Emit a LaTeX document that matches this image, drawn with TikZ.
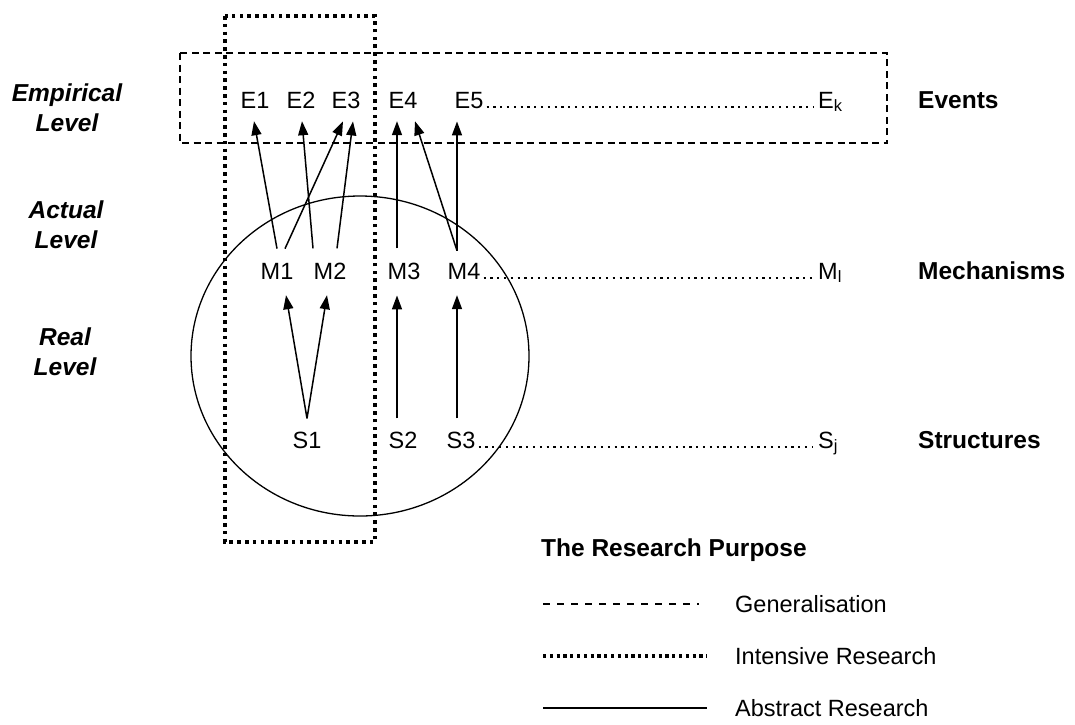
\documentclass[tikz,border=0pt]{standalone}
\usepackage{fontspec}
\setmainfont{Liberation Sans}
\usetikzlibrary{arrows.meta}
\begin{document}
\begin{tikzpicture}[x=1pt,y=-1pt,
  txt/.style={font=\fontsize{23.5}{27}\selectfont, inner sep=0pt, anchor=base},
  head/.style={font=\fontsize{24.5}{28}\selectfont\bfseries, inner sep=0pt, anchor=base west},
  level/.style={font=\fontsize{24.5}{30}\selectfont\bfseries\itshape, inner sep=0pt, align=center},
  arr/.style={line width=1.5pt, -{Triangle[length=14pt,width=10pt]}},
  leader/.style={line width=2.2pt, dash pattern=on 2.2pt off 4.6pt},
  genbox/.style={line width=2pt, dash pattern=on 7pt off 4.5pt},
  intbox/.style={line width=3.6pt, dash pattern=on 3.6pt off 4.2pt},
  absline/.style={line width=1.3pt},
]
\useasboundingbox (0,0) rectangle (1075,724);

% research regions
\draw[genbox] (180,53) rectangle (887,143);
\draw[intbox] (225,16) rectangle (375,542);
\draw[absline] (360,356) ellipse [x radius=169, y radius=160];

% level labels
\node[level] (lemp) at (67,108) {Empirical\\Level};
\node[level] (lact) at (66,225) {Actual\\Level};
\node[level] (lreal) at (65,352) {Real\\Level};

% events
\node[txt] (E1) at (255,108) {E1};
\node[txt] (E2) at (301,108) {E2};
\node[txt] (E3) at (346,108) {E3};
\node[txt] (E4) at (403,108) {E4};
\node[txt] (E5) at (469,108) {E5};
\node[txt, anchor=base west] (Ek) at (818,108) {E\textsubscript{k}};
\node[head] (ev) at (918,108) {Events};

% mechanisms
\node[txt] (M1) at (277,279) {M1};
\node[txt] (M2) at (330,279) {M2};
\node[txt] (M3) at (404,279) {M3};
\node[txt] (M4) at (464,279) {M4};
\node[txt, anchor=base west] (Ml) at (818,279) {M\textsubscript{l}};
\node[head] (me) at (918,279) {Mechanisms};

% structures
\node[txt] (S1) at (307,448) {S1};
\node[txt] (S2) at (403,448) {S2};
\node[txt] (S3) at (461,448) {S3};
\node[txt, anchor=base west] (Sj) at (818,448) {S\textsubscript{j}};
\node[head] (st) at (918,448) {Structures};

% leaders
\draw[leader] ([shift={(3,-1)}]E5.base east) -- ([shift={(-5,-1)}]Ek.base west);
\draw[leader] ([shift={(3,-1)}]M4.base east) -- ([shift={(-5,-1)}]Ml.base west);
\draw[leader] ([shift={(3,-1)}]S3.base east) -- ([shift={(-5,-1)}]Sj.base west);

% mechanisms to events
\draw[arr] ([shift={(0,-14)}]M1.north) -- ([shift={(-1,13)}]E1.south);
\draw[arr] ([shift={(8,-14)}]M1.north) -- ([shift={(-3,13)}]E3.south);
\draw[arr] ([shift={(-17,-14)}]M2.north) -- ([shift={(1,13)}]E2.south);
\draw[arr] ([shift={(7,-14)}]M2.north) -- ([shift={(7,13)}]E3.south);
\draw[arr] ([shift={(-7,-14)}]M3.north) -- ([shift={(-6,13)}]E4.south);
\draw[arr] ([shift={(-7,-12)}]M4.north) -- ([shift={(12,13)}]E4.south);
\draw[arr] ([shift={(-7,-12)}]M4.north) -- ([shift={(-12,13)}]E5.south);

% structures to mechanisms
\draw[arr] ([shift={(0,-13)}]S1.north) -- ([shift={(9,16)}]M1.south);
\draw[arr] ([shift={(0,-13)}]S1.north) -- ([shift={(-3,16)}]M2.south);
\draw[arr] ([shift={(-6,-13)}]S2.north) -- ([shift={(-7,16)}]M3.south);
\draw[arr] ([shift={(-4,-13)}]S3.north) -- ([shift={(-7,16)}]M4.south);

% legend
\node[head] (lt) at (541,556) {The Research Purpose};
\coordinate (g1) at (543,604); \coordinate (g2) at (699,604);
\coordinate (i1) at (543,656); \coordinate (i2) at (707,656);
\coordinate (a1) at (543,708); \coordinate (a2) at (707,708);
\draw[line width=1.3pt, dash pattern=on 7pt off 7pt] (g1) -- (g2);
\draw[line width=3.2pt, dash pattern=on 3.2pt off 3.6pt] (i1) -- (i2);
\draw[absline] (a1) -- (a2);
\node[txt, anchor=base west] (lg) at (735,612.5) {Generalisation};
\node[txt, anchor=base west] (li) at (735,664.5) {Intensive Research};
\node[txt, anchor=base west] (la) at (735,716.5) {Abstract Research};
\end{tikzpicture}
\end{document}
